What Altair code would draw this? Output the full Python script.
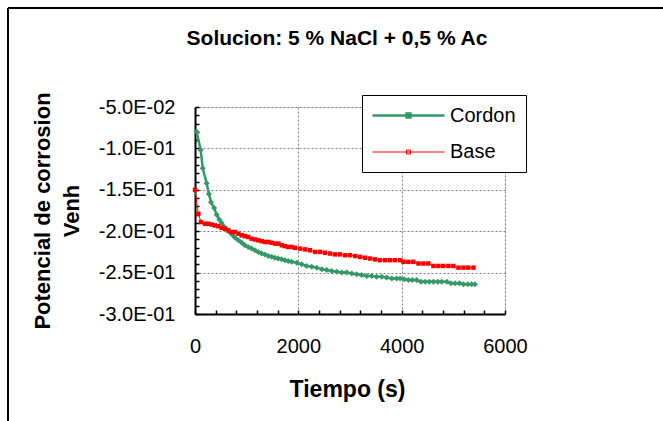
import json
import altair as alt
import pandas as pd

title_text = "Solucion: 5 % NaCl + 0,5 % Ac"
x_title = "Tiempo (s)"
y_title = ["Potencial de corrosion", "Venh"]
series_names = ["Cordon", "Base"]
series_colors = ["#339966", "#FF0000"]
series_widths = [2.5, 1]

cordon_t = [30, 110, 150, 225, 270, 310, 370, 420, 470, 515,
            570, 615, 665, 730, 775, 840, 905, 965, 1030, 1095,
            1160, 1225, 1290, 1355, 1420, 1485, 1545, 1610, 1675, 1740,
            1805, 1870, 1970, 2065, 2160, 2260, 2355, 2455, 2550, 2645,
            2745, 2840, 2935, 3035, 3130, 3225, 3325, 3420, 3515, 3615,
            3710, 3810, 3905, 3970, 4050, 4130, 4205, 4290, 4375, 4455,
            4535, 4615, 4700, 4775, 4875, 4955, 5035, 5120, 5195, 5280,
            5355, 5420]
cordon_v = [-0.080, -0.102, -0.124, -0.142, -0.155, -0.165, -0.172, -0.180, -0.186, -0.190,
            -0.195, -0.198, -0.201, -0.205, -0.208, -0.211, -0.214, -0.217, -0.219, -0.221,
            -0.223, -0.225, -0.227, -0.228, -0.230, -0.231, -0.232, -0.233, -0.234, -0.235,
            -0.236, -0.237, -0.238, -0.240, -0.242, -0.243, -0.244, -0.246, -0.247, -0.248,
            -0.249, -0.250, -0.250, -0.251, -0.252, -0.253, -0.254, -0.254, -0.255, -0.255,
            -0.256, -0.257, -0.257, -0.257, -0.258, -0.259, -0.259, -0.259, -0.261, -0.261,
            -0.261, -0.261, -0.261, -0.261, -0.261, -0.263, -0.263, -0.263, -0.264, -0.264,
            -0.264, -0.264]

base_t = [0, 65, 115, 195, 260, 325, 385, 450, 515, 580,
          645, 710, 775, 840, 905, 970, 1030, 1095, 1160, 1225,
          1290, 1355, 1420, 1485, 1550, 1615, 1680, 1740, 1805, 1870,
          1935, 2035, 2130, 2225, 2325, 2420, 2515, 2615, 2710, 2805,
          2905, 3000, 3100, 3195, 3290, 3390, 3485, 3580, 3680, 3775,
          3870, 3970, 4035, 4130, 4225, 4325, 4420, 4515, 4615, 4710,
          4805, 4905, 5000, 5100, 5195, 5290, 5390]
base_v = [-0.150, -0.179, -0.189, -0.191, -0.191, -0.192, -0.193, -0.194, -0.196, -0.197,
          -0.199, -0.201, -0.201, -0.203, -0.205, -0.206, -0.207, -0.209, -0.210, -0.211,
          -0.212, -0.213, -0.213, -0.214, -0.215, -0.215, -0.217, -0.218, -0.219, -0.219,
          -0.220, -0.221, -0.222, -0.223, -0.225, -0.225, -0.226, -0.227, -0.228, -0.228,
          -0.229, -0.229, -0.230, -0.231, -0.232, -0.233, -0.234, -0.235, -0.235, -0.235,
          -0.235, -0.235, -0.237, -0.237, -0.237, -0.239, -0.239, -0.239, -0.242, -0.242,
          -0.242, -0.242, -0.242, -0.244, -0.244, -0.244, -0.244]

x_ticks = [0, 2000, 4000, 6000]
y_ticks = [-0.30, -0.25, -0.20, -0.15, -0.10, -0.05]
y_tick_labels = ["-3.0E-01", "-2.5E-01", "-2.0E-01", "-1.5E-01", "-1.0E-01", "-5.0E-02"]
x_minor_ticks = list(range(0, 6001, 400))
y_minor_ticks = [round(-0.30 + 0.01 * i, 2) for i in range(26)]

FONT = "Liberation Sans"
W, H = 310, 207

cordon_df = pd.DataFrame({"t": cordon_t, "v": cordon_v, "series": "Cordon"})
base_df = pd.DataFrame({"t": base_t, "v": base_v, "series": "Base"})

x_scale = alt.Scale(domain=[0, 6000], nice=False, zero=False)
y_scale = alt.Scale(domain=[-0.30, -0.05], nice=False, zero=False)

y_label_expr = json.dumps(y_tick_labels) + "[round((datum.value + 0.3) / 0.05)]"

x_axis_main = alt.Axis(
    values=x_ticks, format="d", title=x_title, grid=True, ticks=False,
    gridColor="#808080", gridDash=[2, 2], gridWidth=1,
    domainColor="black", domainWidth=2,
    labelFont=FONT, labelFontSize=20, labelColor="black", labelPadding=22,
    labelFlush=False, labelOverlap=False,
    titleFont=FONT, titleFontSize=23, titleFontWeight="bold", titleColor="black",
    titleX=152, titleY=82, titleBaseline="alphabetic",
)
y_axis_main = alt.Axis(
    values=y_ticks, labelExpr=y_label_expr, title=y_title, grid=True, ticks=False,
    gridColor="#808080", gridDash=[2, 2], gridWidth=1,
    domainColor="black", domainWidth=2,
    labelFont=FONT, labelFontSize=20, labelColor="black", labelPadding=20,
    labelFlush=False, labelOverlap=False,
    titleFont=FONT, titleFontSize=22, titleFontWeight="bold", titleColor="black",
    titleX=-146, titleBaseline="alphabetic", titleLineHeight=29,
)
x_axis_minor = alt.Axis(
    orient="top", offset=-H, values=x_minor_ticks, labels=False, domain=False,
    grid=False, ticks=True, tickSize=4, tickWidth=1.5, tickColor="black", title=None,
)
y_axis_minor = alt.Axis(
    orient="right", offset=-W, values=y_minor_ticks, labels=False, domain=False,
    grid=False, ticks=True, tickSize=4, tickWidth=1.5, tickColor="black", title=None,
)

legend = alt.Legend(
    title=None, orient="none", legendX=167, legendY=-12,
    padding=10, rowPadding=16, fillColor="white", strokeColor="black",
    symbolType="M-4,0H4M-0.22,-0.22H0.22V0.22H-0.22Z", symbolSize=324,
    symbolOffset=26, labelOffset=31,
    labelFont=FONT, labelFontSize=20, labelColor="black",
)

stroke_enc = alt.Stroke("series:N", scale=alt.Scale(domain=series_names, range=series_colors), legend=legend)
width_enc = alt.StrokeWidth("series:N", scale=alt.Scale(domain=series_names, range=series_widths), legend=legend)

one_row = pd.DataFrame({"a": [0]})
frame_top = alt.Chart(one_row).mark_rule(stroke="black", strokeWidth=2).encode(
    x=alt.value(-187), x2=alt.value(W + 300), y=alt.value(-99)
)
frame_left = alt.Chart(one_row).mark_rule(stroke="black", strokeWidth=2).encode(
    x=alt.value(-187), y=alt.value(-99), y2=alt.value(H + 300)
)

cordon_line = alt.Chart(cordon_df).mark_line().encode(
    x=alt.X("t:Q", scale=x_scale, axis=x_axis_main),
    y=alt.Y("v:Q", scale=y_scale, axis=y_axis_main),
    stroke=stroke_enc, strokeWidth=width_enc,
)
cordon_pts = alt.Chart(cordon_df).mark_point(
    shape="diamond", filled=True, size=36, color=series_colors[0], opacity=1
).encode(
    x=alt.X("t:Q", scale=x_scale, axis=None),
    y=alt.Y("v:Q", scale=y_scale, axis=None),
)
base_line = alt.Chart(base_df).mark_line().encode(
    x=alt.X("t:Q", scale=x_scale, axis=None),
    y=alt.Y("v:Q", scale=y_scale, axis=None),
    stroke=stroke_enc, strokeWidth=width_enc,
)
base_pts = alt.Chart(base_df).mark_square(
    size=20, color=series_colors[1], opacity=1
).encode(
    x=alt.X("t:Q", scale=x_scale, axis=x_axis_minor),
    y=alt.Y("v:Q", scale=y_scale, axis=y_axis_minor),
)

chart = alt.layer(frame_top, frame_left, cordon_line, cordon_pts, base_line, base_pts).resolve_axis(
    x="independent", y="independent"
).properties(
    width=W, height=H,
    padding={"left": 195, "top": 107, "right": 158, "bottom": 107},
    autosize=alt.AutoSizeParams(type="none"),
    title=alt.TitleParams(
        text=title_text, font=FONT, fontSize=21, fontWeight="bold", color="black",
        anchor="middle", frame="group", dx=-13, offset=0, dy=59, baseline="alphabetic",
    ),
).configure_view(
    stroke="#808080", strokeWidth=2
).configure_legend(
    strokeWidth=2
).configure(background="white")

chart.save("out.html", embed_options={"renderer": "svg", "actions": False})
